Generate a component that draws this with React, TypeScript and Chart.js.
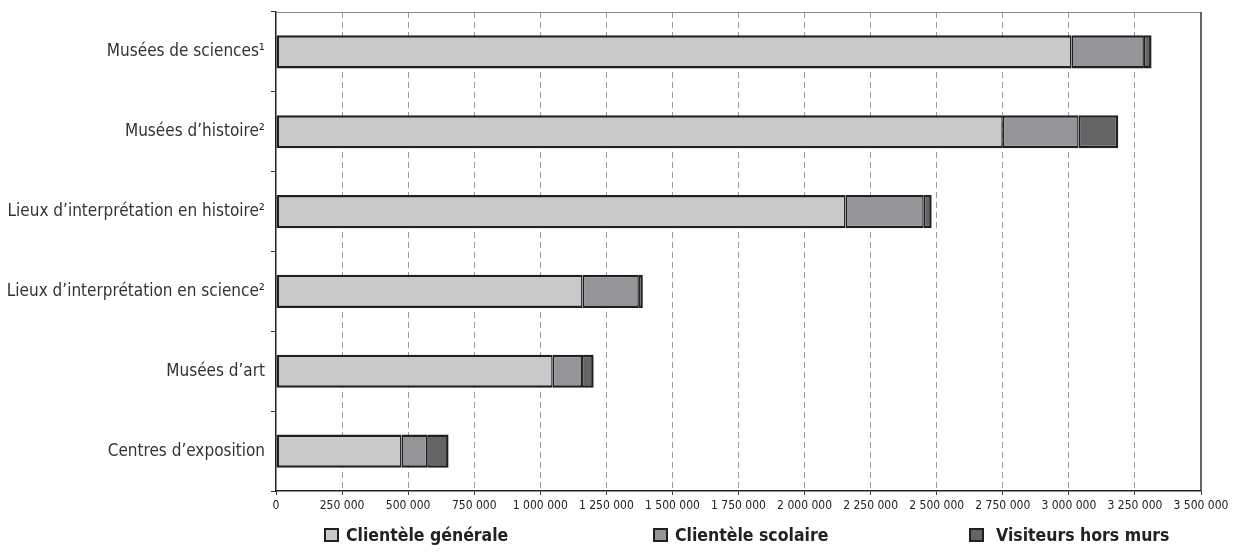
import React, { useEffect, useRef } from "react";
import { Chart, registerables } from "chart.js";

Chart.register(...registerables);

const categories = [
  "Musées de sciences¹",
  "Musées d’histoire²",
  "Lieux d’interprétation en histoire²",
  "Lieux d’interprétation en science²",
  "Musées d’art",
  "Centres d’exposition",
];
const seriesNames = ["Clientèle générale", "Clientèle scolaire", "Visiteurs hors murs"];
const generale = [3010000, 2750000, 2155000, 1160000, 1047000, 475000];
const scolaire = [274000, 287000, 296000, 213000, 111000, 97000];
const horsMurs = [29000, 150000, 30000, 15000, 44000, 81000];
const xMin = 0;
const xMax = 3500000;
const xStep = 250000;

const colors = ["#c8c9cb", "#939598", "#646567"];
const edge = "#231f20";
const FONT = "'Liberation Sans Narrow', 'DejaVu Sans Condensed', 'Roboto', sans-serif";

const fmt = (v: number) => String(v).replace(/\B(?=(\d{3})+(?!\d))/g, " ");

const framePlugin = {
  id: "frame",
  afterDraw(chart: any) {
    const { ctx, chartArea } = chart;
    ctx.save();
    ctx.strokeStyle = "#8a8a8a";
    ctx.lineWidth = 1;
    ctx.beginPath();
    ctx.moveTo(chartArea.left, chartArea.top + 0.5);
    ctx.lineTo(chartArea.right, chartArea.top + 0.5);
    ctx.stroke();
    ctx.strokeStyle = "#333";
    ctx.lineWidth = 1.5;
    ctx.beginPath();
    ctx.moveTo(chartArea.right, chartArea.top);
    ctx.lineTo(chartArea.right, chartArea.bottom);
    ctx.stroke();
    ctx.restore();
  },
};

export default function App() {
  const ref = useRef<HTMLCanvasElement>(null);
  useEffect(() => {
    if (!ref.current) return;
    const chart = new Chart(ref.current, {
      type: "bar",
      data: {
        labels: categories,
        datasets: [
          {
            label: seriesNames[0],
            data: generale,
            backgroundColor: colors[0],
            borderColor: edge,
            borderWidth: { left: 2.5, right: 1.5, top: 2.5, bottom: 2.5 } as any,
            borderSkipped: false,
          },
          {
            label: seriesNames[1],
            data: scolaire,
            backgroundColor: colors[1],
            borderColor: edge,
            borderWidth: { left: 1.5, right: 1.5, top: 2.5, bottom: 2.5 } as any,
            borderSkipped: false,
          },
          {
            label: seriesNames[2],
            data: horsMurs,
            backgroundColor: colors[2],
            borderColor: edge,
            borderWidth: { left: 1.5, right: 2.5, top: 2.5, bottom: 2.5 } as any,
            borderSkipped: false,
          },
        ],
      },
      options: {
        indexAxis: "y",
        responsive: false,
        animation: false,
        maintainAspectRatio: false,
        layout: { padding: { top: 12, right: 33, left: 0, bottom: 0 } },
        datasets: { bar: { barPercentage: 0.415, categoryPercentage: 1 } },
        plugins: { legend: { display: false }, tooltip: { enabled: false } },
        scales: {
          x: {
            stacked: true,
            min: xMin,
            max: xMax,
            ticks: {
              stepSize: xStep,
              callback: (v: any) => fmt(Number(v)),
              font: { family: FONT, size: 12 },
              color: "#222",
              padding: 4,
              maxRotation: 0,
              autoSkip: false,
            },
            grid: {
              color: (c: any) =>
                c.tick && (c.tick.value === xMin || c.tick.value === xMax) ? "rgba(0,0,0,0)" : "#9a9a9a",
              tickColor: "#333",
              tickLength: 4,
              lineWidth: 1,
            },
            border: { color: "#222", width: 1.5, dash: [6, 4] },
            afterFit: (s: any) => {
              s.height = 65;
              s.paddingLeft = 0;
              s.paddingRight = 0;
            },
          },
          y: {
            stacked: true,
            offset: true,
            ticks: {
              font: { family: FONT, size: 17 },
              color: "#333",
              padding: 6,
            },
            grid: {
              offset: true,
              drawOnChartArea: false,
              tickLength: 5,
              tickColor: "#333",
            },
            border: { color: "#222", width: 1.5 },
            afterFit: (s: any) => {
              s.width = 276;
              s.paddingTop = 0;
              s.paddingBottom = 0;
            },
          },
        },
      },
      plugins: [framePlugin],
    } as any);
    return () => chart.destroy();
  }, []);

  const legendItems = [
    { box: 324, text: 346 },
    { box: 653, text: 675 },
    { box: 969, text: 996 },
  ];

  return (
    <div style={{ position: "absolute", left: 0, top: 0, width: 1234, height: 556, background: "#fff" }}>
      <canvas ref={ref} width={1234} height={556} style={{ position: "absolute", left: 0, top: 0 }} />
      {legendItems.map((it, i) => (
        <React.Fragment key={i}>
          <div
            style={{
              position: "absolute",
              left: it.box,
              top: 528,
              width: 11,
              height: 10,
              background: colors[i],
              border: `2px solid ${edge}`,
            }}
          />
          <div
            style={{
              position: "absolute",
              left: it.text,
              top: 524,
              fontFamily: FONT,
              fontWeight: "bold",
              fontSize: 17.5,
              lineHeight: "22px",
              color: "#222",
              whiteSpace: "nowrap",
            }}
          >
            {seriesNames[i]}
          </div>
        </React.Fragment>
      ))}
    </div>
  );
}
